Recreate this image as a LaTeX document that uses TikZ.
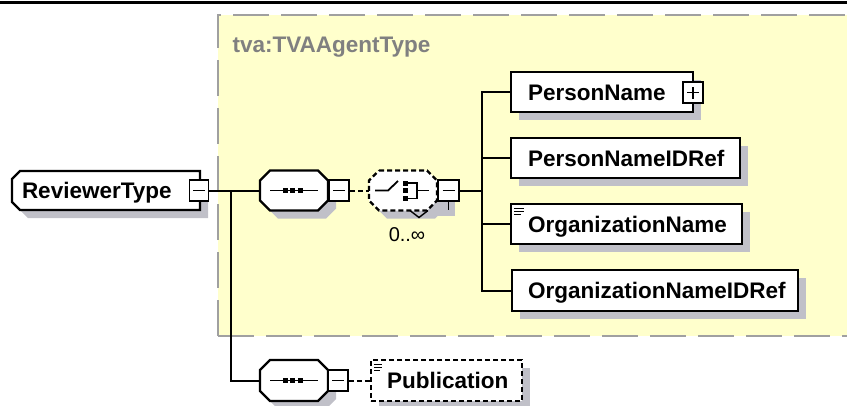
\documentclass[tikz,border=0pt]{standalone}
\usepackage{fontspec}
\setmainfont{Liberation Sans}
\usetikzlibrary{shadows}
\definecolor{ybg}{RGB}{255,255,204}
\definecolor{bordergray}{RGB}{160,160,160}
\definecolor{shadowc}{RGB}{192,192,200}
\definecolor{tvagray}{RGB}{128,128,128}
\newcommand{\octo}[5]{(#1-#3+#5,#2-#4) -- (#1+#3-#5,#2-#4) -- (#1+#3,#2-#4+#5) -- (#1+#3,#2+#4-#5) -- (#1+#3-#5,#2+#4) -- (#1-#3+#5,#2+#4) -- (#1-#3,#2+#4-#5) -- (#1-#3,#2-#4+#5) -- cycle}
\begin{document}
\begin{tikzpicture}[x=1pt,y=-1pt,
  lbl/.style={font=\bfseries\fontsize{22.5}{24}\selectfont, text height=16pt, text depth=0pt},
  elem/.style={lbl, draw=black, line width=2.2pt, fill=white, inner sep=0pt,
    general shadow={fill=shadowc, shadow xshift=8pt, shadow yshift=-8pt}},
  holder/.style={lbl, inner sep=0pt},
  pm/.style={draw=black, line width=1.8pt, fill=white, inner sep=0pt, minimum width=20pt, minimum height=21pt},
  sign/.style={line width=1.8pt},
  conn/.style={line width=2pt},
  dconn/.style={line width=2pt, dash pattern=on 5pt off 3pt},
  outl/.style={draw=black, line width=2.2pt, fill=white},
  doutl/.style={draw=black, line width=2.2pt, fill=white, dash pattern=on 5pt off 3pt},
  shad/.style={fill=shadowc}
]
\useasboundingbox (0,0) rectangle (847,405);
% top rule
\draw[line width=3pt] (0,2.5) -- (847,2.5);
% yellow group
\fill[ybg] (218,15) rectangle (847,336);
\draw[bordergray, line width=2.5pt, dash pattern=on 36pt off 12pt] (218,336) -- (218,15) -- (847,15);
\draw[bordergray, line width=2.5pt, dash pattern=on 36pt off 12pt] (218,336) -- (847,336);
\node[anchor=base west, font=\bfseries\fontsize{22.5}{24}\selectfont, text=tvagray] (tva) at (229,52) {tva:TVAAgentType};

% ReviewerType
\fill[shad] (28,179) -- (208,179) -- (208,218) -- (28,218) -- (20,210) -- (20,187) -- cycle;
\draw[outl] (20,171) -- (200,171) -- (200,210) -- (20,210) -- (12,202) -- (12,179) -- cycle;
\node[holder, minimum width=188pt, minimum height=39pt] (rt) at (106,190.5) {\makebox[188pt][l]{\hspace{10pt}ReviewerType}};
\node[pm, minimum width=19pt] (rtm) at (199,190.5) {};
\draw[sign] ([xshift=-6pt]rtm.center) -- ([xshift=6pt]rtm.center);

% sequence 1
\fill[shad] \octo{302}{198.5}{34}{20}{10};
\draw[outl] \octo{294}{190.5}{34}{20}{10};
\node[holder, minimum width=68pt, minimum height=40pt] (seq1) at (294,190.5) {};
\draw[sign] (270,190.5) -- (318,190.5);
\fill (282.5,188) rectangle +(5,5);
\fill (290,188) rectangle +(5,5);
\fill (297.5,188) rectangle +(5,5);
\node[pm] (seq1m) at (339,190.5) {};
\draw[sign] ([xshift=-6pt]seq1m.center) -- ([xshift=6pt]seq1m.center);

% choice
\fill[shad] \octo{411}{198.5}{34}{20}{10};
\fill[shad] (430,200) rectangle (455,216);
\draw[doutl] \octo{403}{190.5}{34}{20}{10};
\node[holder, minimum width=68pt, minimum height=40pt] (ch) at (403,190.5) {};
\draw[line width=1.4pt] (410,210.5) -- (419,217.5) -- (428,210.5);
\draw[sign] (375,190.5) -- (388,190.5) -- (398,181);
\fill (403,180.5) rectangle +(5,5);
\fill (403,188) rectangle +(5,5);
\fill (403,196) rectangle +(5,5);
\draw[sign] (408,183) -- (417,183) -- (417,198.5) -- (408,198.5);
\draw[sign] (417,190.5) -- (429,190.5);
\node[pm, minimum width=21pt] (chm) at (448.5,190.5) {};
\draw[sign] ([xshift=-6pt]chm.center) -- ([xshift=6pt]chm.center);
\draw[sign] (chm.south) -- ++(0,8);
\node[font=\fontsize{20}{22}\selectfont] (occ) at (407,235) {0..∞};

% children
\node[elem, minimum width=182pt, minimum height=40pt] (pn) at (602,92) {\makebox[182pt][l]{\hspace{17pt}PersonName}};
\node[pm] (pnp) at (693,92.5) {};
\draw[sign] ([xshift=-6pt]pnp.center) -- ([xshift=6pt]pnp.center);
\draw[sign] ([yshift=-6pt]pnp.center) -- ([yshift=6pt]pnp.center);
\node[elem, minimum width=229pt, minimum height=40pt] (pnid) at (625.5,158) {\makebox[229pt][l]{\hspace{17pt}PersonNameIDRef}};
\node[elem, minimum width=231pt, minimum height=40pt] (on) at (626.5,224) {\makebox[231pt][l]{\hspace{17pt}OrganizationName}};
\draw[line width=1pt] (514,208) -- (524,208) (514,211) -- (524,211) (514,214) -- (521,214);
\node[elem, minimum width=286pt, minimum height=41pt] (onid) at (655,290.5) {\makebox[286pt][l]{\hspace{16pt}OrganizationNameIDRef}};

% sequence 2
\fill[shad] \octo{302}{388.5}{34}{20.5}{10};
\draw[outl] \octo{294}{380.5}{34}{20.5}{10};
\node[holder, minimum width=68pt, minimum height=41pt] (seq2) at (294,380.5) {};
\draw[sign] (270,380.5) -- (318,380.5);
\fill (282.5,378) rectangle +(5,5);
\fill (290,378) rectangle +(5,5);
\fill (297.5,378) rectangle +(5,5);
\node[pm] (seq2m) at (338,380.5) {};
\draw[sign] ([xshift=-6pt]seq2m.center) -- ([xshift=6pt]seq2m.center);

% Publication
\node[elem, dash pattern=on 5pt off 3pt, minimum width=151pt, minimum height=41pt] (pub) at (446.5,380.5) {\makebox[151pt][l]{\hspace{16pt}Publication}};
\draw[line width=1pt] (374,364) -- (382,364) (374,367) -- (382,367) (374,370) -- (380,370);

% connectors
\coordinate (j1) at (231,190.5);
\coordinate (j2) at (482,190.5);
\draw[conn] (rtm.east) -- (seq1.west);
\draw[conn] (j1) |- (seq2.west);
\draw[dconn] (seq1m.east) -- (ch.west);
\draw[conn] (chm.east) -- (j2);
\draw[conn] (j2) |- (pn.west);
\draw[conn] (j2) |- (pnid.west);
\draw[conn] (j2) |- (on.west);
\draw[conn] (j2) |- (onid.west);
\draw[dconn] (seq2m.east) -- (pub.west);
\end{tikzpicture}
\end{document}
